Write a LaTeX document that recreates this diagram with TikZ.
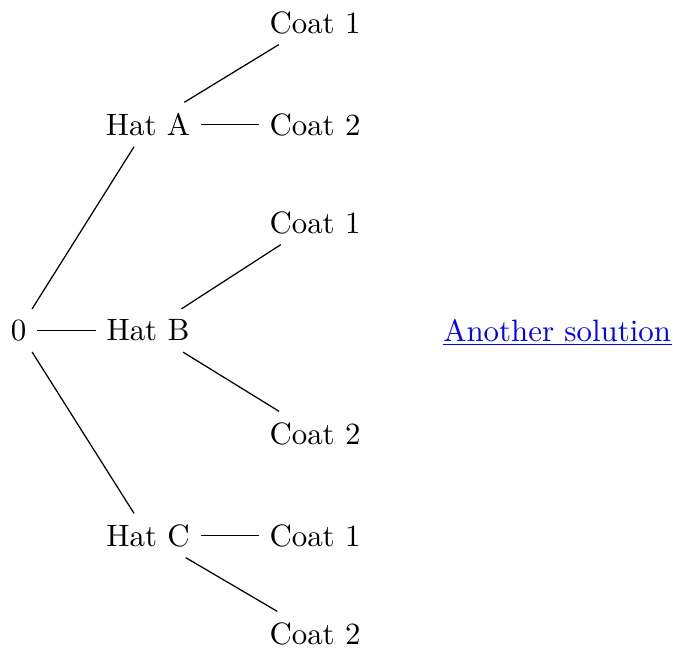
\documentclass[tikz,border=0pt]{standalone}
\usepackage{tikz}
\begin{document}
\begin{tikzpicture}[x=0.3236pt,y=-0.3236pt,
  lbl/.style={anchor=center},
  edge/.style={draw,line width=0.4pt},
  linkstyle/.style={anchor=base west,inner sep=0pt,text=blue}]
\useasboundingbox (0,0) rectangle (673,651);
\node[lbl] (r) at (18.5,330.5) {0};
\node[lbl] (ha) at (148,124.5) {Hat A};
\node[lbl] (hb) at (148,330.5) {Hat B};
\node[lbl] (hc) at (148,535.5) {Hat C};
\node[lbl] (a1) at (315,22.5) {Coat 1};
\node[lbl] (a2) at (315,124.5) {Coat 2};
\node[lbl] (b1) at (315,222.5) {Coat 1};
\node[lbl] (b2) at (315,433.5) {Coat 2};
\node[lbl] (c1) at (315,535.5) {Coat 1};
\node[lbl] (c2) at (315,633.5) {Coat 2};
\node[linkstyle] (link) at (442.7,341) {Another solution};
\draw[blue,line width=0.4pt] ([yshift=-1.1pt]link.base west) -- ([yshift=-1.1pt]link.base east);
\draw[edge] (r) -- (ha);
\draw[edge] (r) -- (hb);
\draw[edge] (r) -- (hc);
\draw[edge] (ha) -- (a1);
\draw[edge] (ha) -- (a2);
\draw[edge] (hb) -- (b1);
\draw[edge] (hb) -- (b2);
\draw[edge] (hc) -- (c1);
\draw[edge] (hc) -- (c2);
\end{tikzpicture}
\end{document}
